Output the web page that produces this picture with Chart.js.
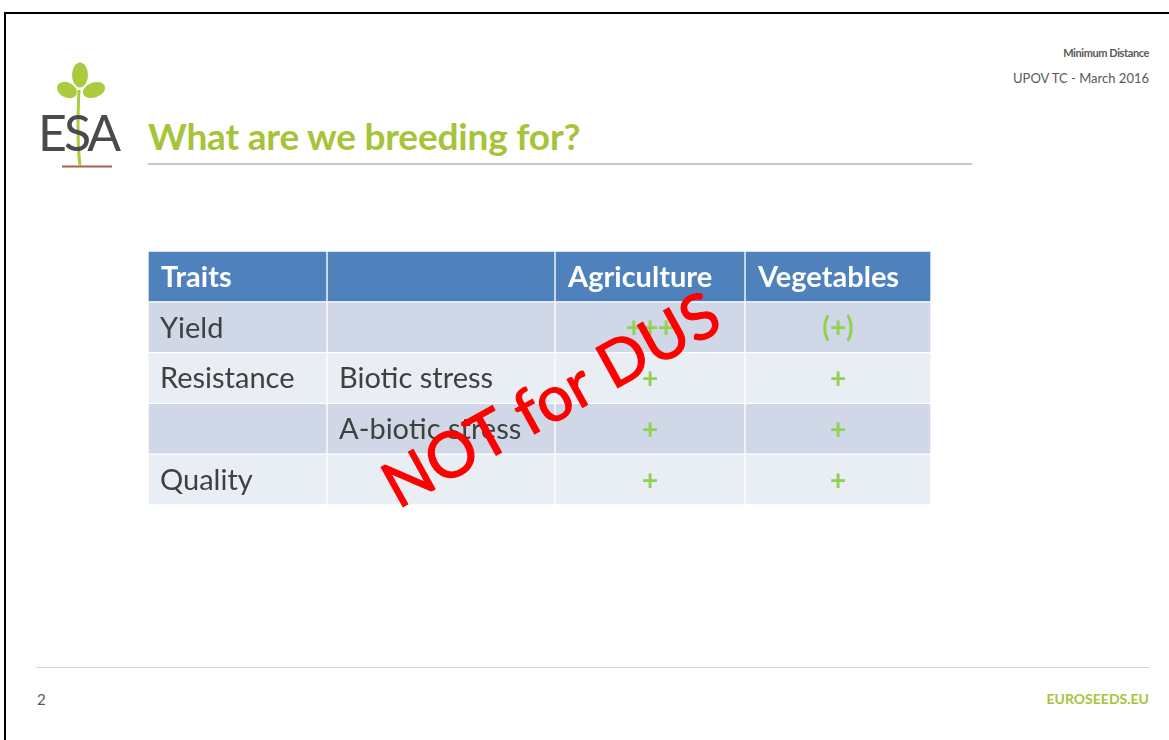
<!DOCTYPE html>
<html>
<head>
<meta charset="utf-8">
<script src="https://cdn.jsdelivr.net/npm/chart.js@4.4.1/dist/chart.umd.min.js"></script>
<style>
  html, body { margin: 0; padding: 0; background: #fff; }
  body { width: 1169px; height: 740px; position: relative; overflow: hidden; font-family: Lato, "Open Sans", sans-serif; }
  .frame { position: absolute; left: 4px; top: 12px; width: 1200px; height: 800px; border-top: 2px solid #000; border-left: 2px solid #000; }
  .abs { position: absolute; white-space: nowrap; line-height: 1; }
  .title { left: 148px; top: 117px; font-size: 37px; font-weight: bold; color: #A5C43A; letter-spacing: -0.2px; }
  .rule { position: absolute; left: 148px; top: 163px; width: 824px; height: 2px; background: #C8C8C8; }
  .foot-rule { position: absolute; left: 36px; top: 667px; width: 1113px; height: 1px; background: #D4D4D4; }
  .meta1 { right: 20px; top: 47px; font-size: 11px; font-weight: bold; color: #595959; letter-spacing: -0.4px; }
  .meta2 { right: 20px; top: 72px; font-size: 13px; color: #595959; }
  .page { left: 37px; top: 692px; font-size: 15px; color: #595959; }
  .site { right: 20px; top: 692px; font-size: 14px; font-weight: bold; color: #A5C43A; }
  #wrap { position: absolute; left: 0; top: 0; width: 1169px; height: 740px; }
</style>
</head>
<body>
<div class="frame"></div>
<svg class="abs" style="left:0;top:0" width="140" height="180">
  <line x1="62" y1="166.5" x2="112" y2="166.5" stroke="#A0604A" stroke-width="2"/>
  <path d="M79 90 C78 110 77 140 80 166" stroke="#A9CB3E" stroke-width="3" fill="none"/>
  <ellipse cx="80" cy="75" rx="8" ry="12.5" fill="#A9CB3E"/>
  <ellipse cx="67" cy="90" rx="10.5" ry="7.5" transform="rotate(25 67 90)" fill="#A9CB3E"/>
  <ellipse cx="94" cy="90" rx="11.5" ry="7.5" transform="rotate(-20 94 90)" fill="#A9CB3E"/>
  <text x="38" y="151" font-family="Lato, sans-serif" font-size="50" fill="#4A4A4C" letter-spacing="-3">ESA</text>
</svg>
<div class="abs title">What are we breeding for?</div>
<div class="rule"></div>
<div class="abs meta1">Minimum Distance</div>
<div class="abs meta2">UPOV TC - March 2016</div>
<div class="foot-rule"></div>
<div class="abs page">2</div>
<div class="abs site">EUROSEEDS.EU</div>
<div id="wrap"><canvas id="table"></canvas></div>
<script>
// table content
const headers = ["Traits", "", "Agriculture", "Vegetables"];
const traits = ["Yield", "Resistance", "", "Quality"];
const stressTypes = ["", "Biotic stress", "A-biotic stress", ""];
const agriculture = ["+++", "+", "+", "+"];
const vegetables = ["(+)", "+", "+", "+"];
const watermark = "NOT for DUS";

// column edges in table units (one unit = one pixel of table width)
const colEdges = [0, 179, 407, 597, 783];

const rowLabels = ["header"].concat(traits.map((t, i) => "row" + (i + 1)));
const columns = [
  [headers[0]].concat(traits),
  [headers[1]].concat(stressTypes),
  [headers[2]].concat(agriculture),
  [headers[3]].concat(vegetables)
];

const headBlue = "#4F81BD";
const rowDark = "#D0D8E8";
const rowLight = "#E9EDF4";
const cellColors = rowLabels.map((r, i) => i === 0 ? headBlue : (i % 2 ? rowDark : rowLight));

const datasets = columns.map((col, c) => ({
  label: headers[c],
  data: rowLabels.map(() => [colEdges[c], colEdges[c + 1]]),
  backgroundColor: cellColors,
  borderColor: "#ffffff",
  borderWidth: 1,
  borderSkipped: false,
  barPercentage: 1,
  categoryPercentage: 1
}));

const cellText = {
  id: "cellText",
  afterDatasetsDraw(chart) {
    const ctx = chart.ctx;
    const x = chart.scales.x, y = chart.scales.y;
    ctx.save();
    ctx.textBaseline = "middle";
    columns.forEach((col, c) => {
      col.forEach((txt, r) => {
        if (!txt) return;
        const left = x.getPixelForValue(colEdges[c]);
        const right = x.getPixelForValue(colEdges[c + 1]);
        const cy = y.getPixelForValue(r);
        if (r === 0) {
          ctx.font = "bold 29px Lato";
          ctx.fillStyle = "#ffffff";
          ctx.textAlign = "left";
          ctx.fillText(txt, left + 13, cy + 1);
        } else if (c < 2) {
          ctx.font = "29px Lato";
          ctx.fillStyle = "#404040";
          ctx.textAlign = "left";
          ctx.fillText(txt, left + 12, cy + 1);
        } else {
          ctx.font = "bold 28px Lato";
          ctx.fillStyle = "#92D050";
          ctx.textAlign = "center";
          ctx.fillText(txt, (left + right) / 2, cy + 1);
        }
      });
    });
    ctx.restore();
  },
  afterDraw(chart) {
    const ctx = chart.ctx;
    const x = chart.scales.x, y = chart.scales.y;
    // stamp across the table
    const sx = x.getPixelForValue(250);
    const sy = y.getPixelForValue(4) + 30;
    ctx.save();
    ctx.translate(sx, sy);
    ctx.rotate(-29 * Math.PI / 180);
    ctx.font = "63px Lato";
    ctx.fillStyle = "#FF0000";
    ctx.strokeStyle = "#FF0000";
    ctx.lineWidth = 1.2;
    ctx.textAlign = "left";
    ctx.textBaseline = "alphabetic";
    ctx.fillText(watermark, 0, 0);
    ctx.strokeText(watermark, 0, 0);
    ctx.restore();
  }
};

new Chart(document.getElementById("table"), {
  type: "bar",
  data: { labels: rowLabels, datasets: datasets },
  plugins: [cellText],
  options: {
    indexAxis: "y",
    responsive: true,
    maintainAspectRatio: false,
    animation: false,
    layout: { padding: { left: 148, top: 251, right: 238, bottom: 235 } },
    plugins: { legend: { display: false }, tooltip: { enabled: false } },
    scales: {
      x: { display: false, min: 0, max: 783 },
      y: { display: false, stacked: true }
    }
  }
});
</script>
</body>
</html>
